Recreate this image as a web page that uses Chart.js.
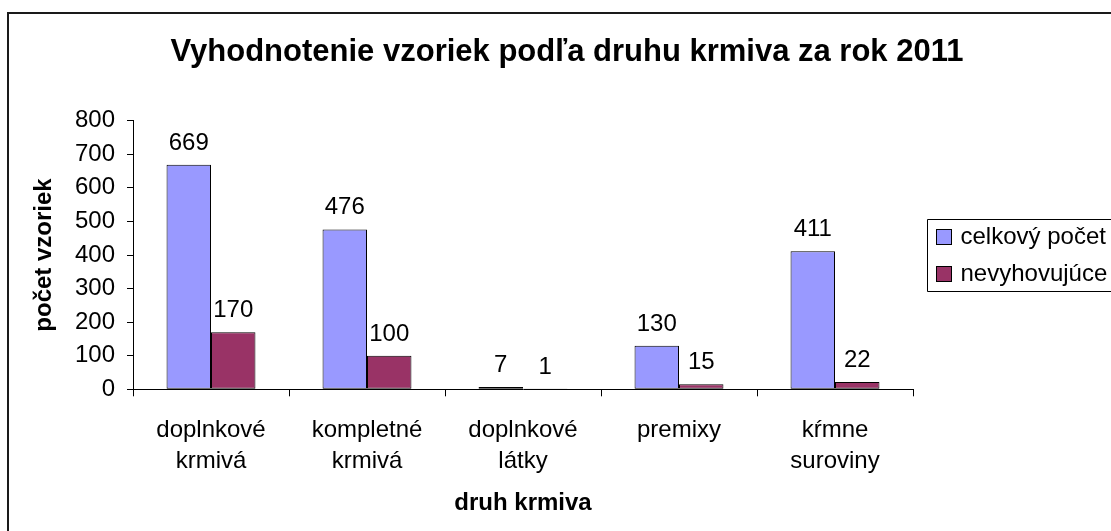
<!DOCTYPE html>
<html>
<head>
<meta charset="utf-8">
<script src="https://cdn.jsdelivr.net/npm/chart.js@4"></script>
<style>
  html, body { margin: 0; padding: 0; background: #fff; overflow: hidden; }
  #wrap { width: 1111px; height: 531px; position: relative; }
  #wrap canvas { display: block; }
</style>
</head>
<body>
<div id="wrap"><canvas id="myChart"></canvas></div>
<script>
var categories = [['doplnkové', 'krmivá'], ['kompletné', 'krmivá'], ['doplnkové', 'látky'], ['premixy'], ['kŕmne', 'suroviny']];
var seriesNames = ['celkový počet', 'nevyhovujúce'];
var totalCount = [669, 476, 7, 130, 411];
var failedCount = [170, 100, 1, 15, 22];
var yTicks = [0, 100, 200, 300, 400, 500, 600, 700, 800];

var FONT = '"Liberation Sans", Arial, sans-serif';
var colors = ['#9999FF', '#993366'];

// white page + chart frame (runs off the right and bottom edge)
var frame = {
  id: 'frame',
  beforeDraw: function(chart) {
    var ctx = chart.ctx;
    ctx.save();
    ctx.fillStyle = '#fff';
    ctx.fillRect(0, 0, chart.width, chart.height);
    ctx.strokeStyle = '#1a1a1a';
    ctx.lineWidth = 2;
    ctx.beginPath();
    ctx.moveTo(chart.width + 5, 13);
    ctx.lineTo(8, 13);
    ctx.lineTo(8, chart.height + 5);
    ctx.stroke();
    ctx.restore();
  }
};

// value above every bar
var barLabels = {
  id: 'barLabels',
  afterDatasetsDraw: function(chart) {
    var ctx = chart.ctx;
    ctx.save();
    ctx.font = '24px ' + FONT;
    ctx.fillStyle = '#000';
    ctx.textAlign = 'center';
    ctx.textBaseline = 'alphabetic';
    chart.data.datasets.forEach(function(ds, i) {
      chart.getDatasetMeta(i).data.forEach(function(bar, j) {
        ctx.fillText(ds.data[j], bar.x, bar.y - 15);
      });
    });
    ctx.restore();
  }
};

// boxed legend on the right, cut off by the page edge
var boxLegend = {
  id: 'boxLegend',
  afterDraw: function(chart) {
    var ctx = chart.ctx;
    var area = chart.chartArea;
    var cy = (area.top + area.bottom) / 2;
    var left = Math.round(area.right + 14) + 0.5;
    var top = Math.round(cy - 36) + 0.5;
    var rowH = 36.6;
    ctx.save();
    ctx.strokeStyle = '#000';
    ctx.lineWidth = 1;
    ctx.beginPath();
    ctx.moveTo(chart.width + 5, top);
    ctx.lineTo(left, top);
    ctx.lineTo(left, top + 72);
    ctx.lineTo(chart.width + 5, top + 72);
    ctx.stroke();
    ctx.font = '24px ' + FONT;
    ctx.textBaseline = 'middle';
    ctx.textAlign = 'left';
    chart.data.datasets.forEach(function(ds, i) {
      var y = cy - rowH / 2 + i * rowH;
      ctx.fillStyle = ds.backgroundColor;
      ctx.fillRect(left + 9, Math.round(y - 7.5), 15, 15);
      ctx.strokeRect(left + 9, Math.round(y - 7.5) + 0.5, 15, 15);
      ctx.fillStyle = '#000';
      ctx.fillText(ds.label, left + 33, y + 1);
    });
    ctx.restore();
  }
};

var ctx = document.getElementById('myChart').getContext('2d');
var myChart = new Chart(ctx, {
  type: 'bar',
  data: {
    labels: categories,
    datasets: [{
      label: seriesNames[0],
      data: totalCount,
      backgroundColor: colors[0],
      borderColor: '#000',
      borderWidth: 1,
      borderSkipped: false
    }, {
      label: seriesNames[1],
      data: failedCount,
      backgroundColor: colors[1],
      borderColor: '#000',
      borderWidth: 1,
      borderSkipped: false
    }]
  },
  options: {
    responsive: true,
    maintainAspectRatio: false,
    animation: false,
    datasets: {
      bar: { categoryPercentage: 0.57, barPercentage: 1.0 }
    },
    layout: { padding: { left: 23, right: 0, top: 0, bottom: 0 } },
    plugins: {
      legend: { display: false },
      tooltip: { enabled: false },
      title: {
        display: true,
        text: 'Vyhodnotenie vzoriek podľa druhu krmiva za rok 2011',
        color: '#000',
        font: { family: FONT, size: 31, weight: 'bold' },
        padding: { top: 33.4, bottom: 50.1 }
      }
    },
    scales: {
      x: {
        grid: { display: true, drawOnChartArea: false, drawTicks: true, tickLength: 7, color: '#000', offset: true },
        border: { display: true, color: '#000', width: 1 },
        ticks: {
          color: '#000',
          font: { family: FONT, size: 24, lineHeight: 1.3 },
          padding: 18,
          maxRotation: 0,
          autoSkip: false
        },
        title: {
          display: true,
          text: 'druh krmiva',
          color: '#000',
          font: { family: FONT, size: 24, weight: 'bold' },
          padding: { top: 0, bottom: 13 }
        },
        afterFit: function(s) { s.height = 531 - 389.3; }
      },
      y: {
        min: 0,
        max: 800,
        grid: { display: true, drawOnChartArea: false, drawTicks: true, tickLength: 6, color: '#000' },
        border: { display: true, color: '#000', width: 1 },
        ticks: {
          color: '#000',
          font: { family: FONT, size: 24 },
          padding: 12
        },
        afterBuildTicks: function(s) {
          s.ticks = yTicks.map(function(v) { return { value: v }; });
        },
        title: {
          display: true,
          text: 'počet vzoriek',
          color: '#000',
          font: { family: FONT, size: 24, weight: 'bold' },
          padding: { top: 6.5, bottom: 0 }
        },
        afterFit: function(s) { s.width = 133 - 23; }
      },
      // empty axis that only keeps room for the legend
      side: {
        type: 'linear',
        position: 'right',
        display: true,
        grid: { display: false },
        border: { display: false },
        ticks: { display: false },
        afterFit: function(s) { s.width = 1111 - 913; }
      }
    }
  },
  plugins: [frame, barLabels, boxLegend]
});
</script>
</body>
</html>
